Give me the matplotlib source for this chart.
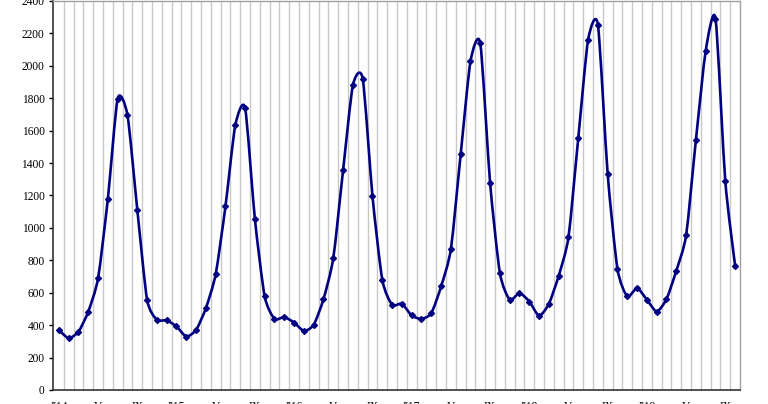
import numpy as np
import matplotlib
matplotlib.use("Agg")
import matplotlib.pyplot as plt
from matplotlib.path import Path
from matplotlib.patches import PathPatch

# monthly values, Jan 2014 .. Oct 2019
values = [
    370, 320, 360, 484, 690, 1181, 1798, 1695, 1113, 557, 433, 430,   # 2014
    392, 330, 371, 505, 715, 1134, 1633, 1740, 1055, 577, 439, 450,   # 2015
    416, 365, 402, 561, 814, 1356, 1880, 1921, 1195, 680, 526, 532,   # 2016
    460, 439, 474, 639, 870, 1455, 2028, 2138, 1278, 722, 557, 598,   # 2017
    546, 458, 532, 705, 944, 1556, 2160, 2253, 1330, 746, 577, 629,   # 2018
    557, 484, 561, 736, 954, 1542, 2093, 2292, 1288, 767,             # 2019
]
years = ["14", "15", "16", "17", "18", "19"]
month_labels = {0: "I'{}", 4: "V", 8: "IX"}

x = np.arange(len(values))
y = np.array(values, dtype=float)

plt.rcParams['font.family'] = ['Liberation Serif', 'DejaVu Serif']

fig = plt.figure(figsize=(7.68, 4.04), dpi=100)
ax = fig.add_axes([53 / 768, 1 - 390 / 404, (740 - 53) / 768, 389 / 404])

# smoothed line (cardinal spline -> cubic bezier), like Excel's smooth line
k = 1 / 9  # lower than Catmull-Rom (1/6) to limit overshoot at peaks
verts = [(x[0], y[0])]
codes = [Path.MOVETO]
n = len(x)
for i in range(n - 1):
    p0 = np.array([x[max(i - 1, 0)], y[max(i - 1, 0)]])
    p1 = np.array([x[i], y[i]])
    p2 = np.array([x[i + 1], y[i + 1]])
    p3 = np.array([x[min(i + 2, n - 1)], y[min(i + 2, n - 1)]])
    c1 = p1 + (p2 - p0) * k
    c2 = p2 - (p3 - p1) * k
    verts += [tuple(c1), tuple(c2), tuple(p2)]
    codes += [Path.CURVE4] * 3
ax.add_patch(PathPatch(Path(verts, codes), fill=False, edgecolor='#000080',
                       lw=1.9, zorder=3, capstyle='round', joinstyle='round'))
ax.plot(x, y, ls='none', marker='D', ms=3, color='#000080', zorder=4)

ax.set_xlim(-0.6, n - 0.5)
ax.set_ylim(0, 2400)
ax.set_yticks(range(0, 2401, 200))

# vertical gridlines between categories
for g in np.arange(0.5, n - 0.5, 1):
    ax.axvline(g, color='#c8c8c8', lw=1, zorder=1)

ticks, labels = [], []
for yi, yr in enumerate(years):
    for m, lab in month_labels.items():
        idx = yi * 12 + m
        if idx < n:
            ticks.append(idx)
            labels.append(lab.format(yr) if m == 0 else lab)
ax.set_xticks(ticks)
ax.set_xticklabels(labels)

ax.tick_params(axis='y', labelsize=8.3, length=3, width=1, pad=3)
ax.tick_params(axis='x', labelsize=8.3, length=0, pad=8)
for s in ['left', 'bottom']:
    ax.spines[s].set_color('#333333')
    ax.spines[s].set_linewidth(1.2)
for s in ['top', 'right']:
    ax.spines[s].set_color('#a0a0a0')
    ax.spines[s].set_linewidth(1)

fig.savefig('out.png', dpi=100)
